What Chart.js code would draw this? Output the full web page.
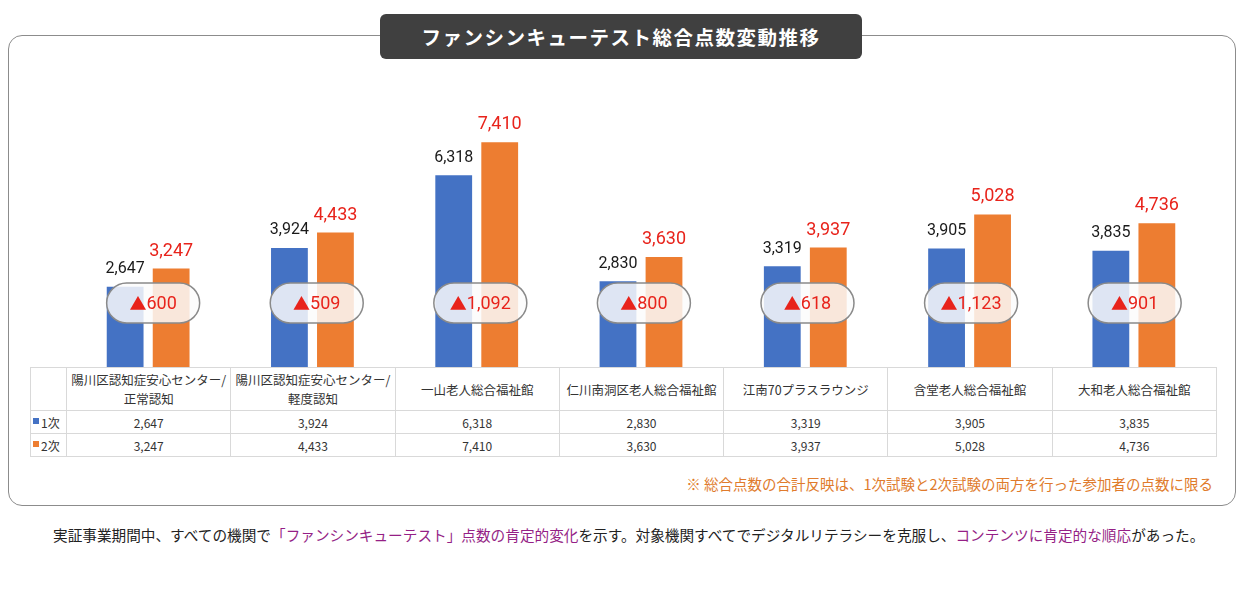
<!DOCTYPE html>
<html><head><meta charset="utf-8">
<script src="https://cdn.jsdelivr.net/npm/chart.js@4/dist/chart.umd.min.js"></script>
<style>
html,body{margin:0;padding:0;background:#fff;width:1244px;height:594px;overflow:hidden;font-family:"Noto Sans CJK JP","Noto Sans",sans-serif;}
#frame{position:absolute;left:8px;top:35px;width:1226px;height:469px;border:1px solid #8c8c8c;border-radius:14px;}
#title{position:absolute;left:380px;top:14px;width:482px;height:45px;background:#404040;border-radius:6px;color:#fff;font-weight:bold;font-size:19.5px;letter-spacing:1.5px;text-align:center;line-height:45px;z-index:3;}
#c{position:absolute;left:0;top:0;z-index:2;}
#tbl{position:absolute;left:30px;top:367px;border-collapse:collapse;table-layout:fixed;z-index:1;color:#333;}
#tbl td{border:1px solid #d9d9d9;text-align:center;padding:0;font-size:12px;font-family:"Noto Sans CJK JP",sans-serif;}
#tbl tr.h td{height:42px;font-size:12.5px;line-height:19px;}
#tbl tr.r td{height:22px;}
#tbl td.lg{text-align:left;padding-left:2px;font-size:12px;}
.sq{display:inline-block;width:6px;height:6px;margin-right:2px;vertical-align:4px;}
#note{position:absolute;right:31px;top:473px;font-size:14.5px;color:#e07b2c;}
#cap{position:absolute;left:53px;top:524px;font-size:14.65px;color:#222;white-space:nowrap;}
#cap .m{color:#951f86;}
</style></head>
<body>
<div id="frame"></div>
<div id="title">ファンシンキューテスト総合点数変動推移</div>
<table id="tbl"></table>
<canvas id="c" width="1244" height="594"></canvas>
<div id="note">※ 総合点数の合計反映は、1次試験と2次試験の両方を行った参加者の点数に限る</div>
<div id="cap">実証事業期間中、すべての機関で<span class="m">「ファンシンキューテスト」点数の肯定的変化</span>を示す。対象機関すべてでデジタルリテラシーを克服し、<span class="m">コンテンツに肯定的な順応</span>があった。</div>
<script>
const categories = [
  "陽川区認知症安心センター/\n正常認知",
  "陽川区認知症安心センター/\n軽度認知",
  "一山老人総合福祉館",
  "仁川南洞区老人総合福祉館",
  "江南70プラスラウンジ",
  "含堂老人総合福祉館",
  "大和老人総合福祉館"
];
const seriesNames = ["1次", "2次"];
const first = [2647, 3924, 6318, 2830, 3319, 3905, 3835];
const second = [3247, 4433, 7410, 3630, 3937, 5028, 4736];
const diffs = [600, 509, 1092, 800, 618, 1123, 901];
const colors = ["#4472c4", "#ed7d31"];
const fmt = v => v.toLocaleString("en-US");

// table
const tbl = document.getElementById("tbl");
const cg = document.createElement("colgroup");
let w0 = document.createElement("col"); w0.style.width = "36px"; cg.appendChild(w0);
categories.forEach(() => { const c = document.createElement("col"); c.style.width = (1150/7) + "px"; cg.appendChild(c); });
tbl.appendChild(cg);
tbl.style.width = "1186px";
let tr = document.createElement("tr"); tr.className = "h";
tr.appendChild(document.createElement("td"));
categories.forEach(c => { const td = document.createElement("td"); td.innerHTML = c.replace("\n", "<br>"); tr.appendChild(td); });
tbl.appendChild(tr);
[first, second].forEach((arr, i) => {
  const r = document.createElement("tr"); r.className = "r";
  const lg = document.createElement("td"); lg.className = "lg";
  lg.innerHTML = '<span class="sq" style="background:' + colors[i] + '"></span>' + seriesNames[i];
  r.appendChild(lg);
  arr.forEach(v => { const td = document.createElement("td"); td.textContent = fmt(v); r.appendChild(td); });
  tbl.appendChild(r);
});

const labelPlugin = {
  id: "labels",
  afterDatasetsDraw(chart) {
    const ctx = chart.ctx;
    ctx.save();
    ctx.textAlign = "center";
    ctx.textBaseline = "middle";
    const m0 = chart.getDatasetMeta(0), m1 = chart.getDatasetMeta(1);
    m0.data.forEach((bar, i) => {
      ctx.fillStyle = "#1a1a1a";
      ctx.font = "16px Roboto, 'Liberation Sans', sans-serif";
      ctx.fillText(fmt(first[i]), bar.x, bar.y - 17.5);
    });
    m1.data.forEach((bar, i) => {
      ctx.fillStyle = "#e8231b";
      ctx.font = "18px Roboto, 'Liberation Sans', sans-serif";
      ctx.fillText(fmt(second[i]), bar.x, bar.y - 17.5);
    });
    // pills
    const y = chart.scales.y.getPixelForValue(0) - 64;
    const triFont = "17px 'Noto Sans CJK JP', sans-serif";
    const numFont = "18px Roboto, 'Liberation Sans', sans-serif";
    m0.data.forEach((bar, i) => {
      const cx = (bar.x + m1.data[i].x) / 2 + 5 - i * 0.7;
      const w = 93, h = 40, r = 20;
      ctx.beginPath();
      ctx.roundRect(cx - w / 2, y - h / 2, w, h, r);
      ctx.fillStyle = "rgba(252,252,252,0.84)";
      ctx.fill();
      ctx.lineWidth = 1.5;
      ctx.strokeStyle = "#8a8a8a";
      ctx.stroke();
      ctx.fillStyle = "#e8231b";
      const num = fmt(diffs[i]);
      ctx.font = triFont; const tw = ctx.measureText("▲").width;
      ctx.font = numFont; const nw = ctx.measureText(num).width;
      const x0 = cx - (tw + nw) / 2;
      ctx.textAlign = "left";
      ctx.font = triFont; ctx.fillText("▲", x0, y + 1);
      ctx.font = numFont; ctx.fillText(num, x0 + tw, y + 1);
      ctx.textAlign = "center";
    });
    ctx.restore();
  }
};

new Chart(document.getElementById("c"), {
  type: "bar",
  data: {
    labels: categories,
    datasets: [
      { label: seriesNames[0], data: first, backgroundColor: colors[0] },
      { label: seriesNames[1], data: second, backgroundColor: colors[1] }
    ]
  },
  options: {
    responsive: false,
    animation: false,
    layout: { padding: { left: 66, right: 28, top: 94, bottom: 227 } },
    categoryPercentage: 0.56,
    barPercentage: 0.8,
    plugins: { legend: { display: false }, tooltip: { enabled: false } },
    scales: {
      x: { display: false },
      y: { display: false, min: 0, max: 9000 }
    }
  },
  plugins: [labelPlugin]
});
</script>
</body></html>
